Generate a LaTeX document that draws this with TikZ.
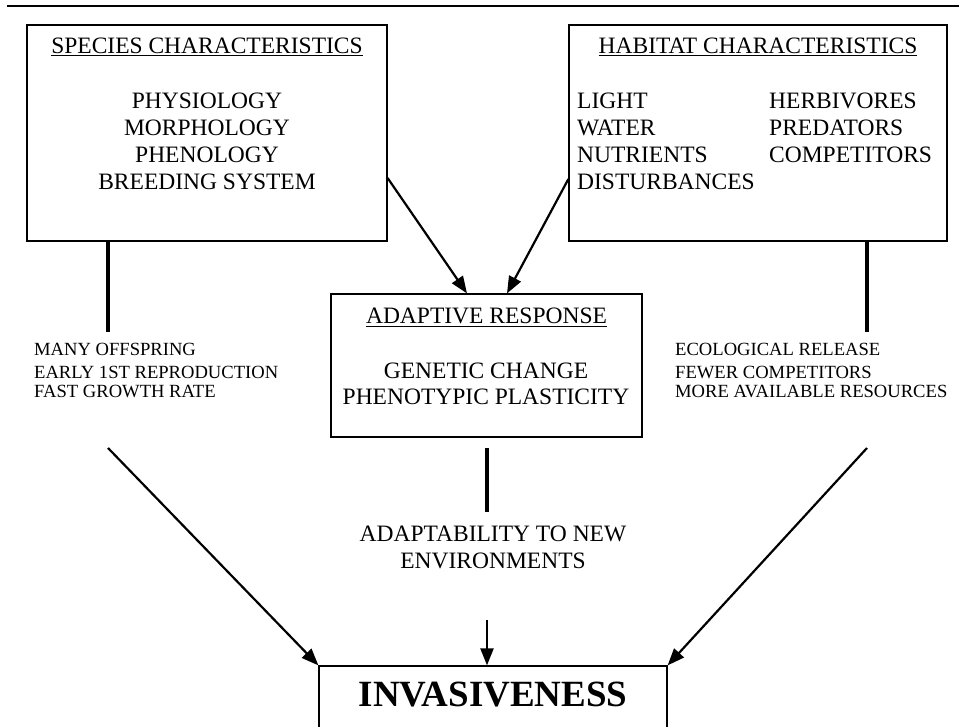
\documentclass[tikz,border=0pt]{standalone}
\usepackage{fontspec}
\setmainfont{Liberation Serif}
\usetikzlibrary{arrows.meta}

\begin{document}
\begin{tikzpicture}[
        x=1pt, y=-1pt,
        panel/.style={draw, line width=1.2pt, inner sep=0pt, minimum width=#1},
        item/.style={anchor=base, font=\fontsize{23.5}{27}\selectfont},
        entry/.style={anchor=base west, inner sep=0pt, font=\fontsize{23.5}{27}\selectfont},
        note/.style={anchor=base west, inner sep=0pt, font=\fontsize{18.6}{21}\selectfont},
        stem/.style={line width=3.4pt},
        feed/.style={line width=2.2pt, -{Triangle[length=17pt,width=13pt]}}
    ]
        \useasboundingbox (0, 0) rectangle (959, 727);
        \clip (0, 0) rectangle (959, 727);
        \draw[line width=1.3pt] (7, 6) -- (959, 6);
        % boxes
        \node[panel=360pt, minimum height=216pt] (species) at (207, 133) {};
        \node[panel=378pt, minimum height=216pt] (habitat) at (758, 133) {};
        \node[panel=311pt, minimum height=143pt] (adaptive) at (486.5, 365.5) {};
        \node[panel=348pt, minimum height=94pt] (invasive) at (493, 713) {};
        % species
        \node[item] (sphead) at (207, 54) {\underline{SPECIES CHARACTERISTICS}};
        \node[item] (sphys) at (207, 109) {PHYSIOLOGY};
        \node[item] (smorph) at (207, 136) {MORPHOLOGY};
        \node[item] (sphen) at (207, 163) {PHENOLOGY};
        \node[item] (sbreed) at (207, 190) {BREEDING SYSTEM};
        % habitat
        \node[item] (hhead) at (758, 54) {\underline{HABITAT CHARACTERISTICS}};
        \node[entry] (hlight) at (577, 109) {LIGHT};
        \node[entry] (hwater) at (577, 136) {WATER};
        \node[entry] (hnutr) at (577, 163) {NUTRIENTS};
        \node[entry] (hdist) at (577, 190) {DISTURBANCES};
        \node[entry] (hherb) at (769, 109) {HERBIVORES};
        \node[entry] (hpred) at (769, 136) {PREDATORS};
        \node[entry] (hcomp) at (769, 163) {COMPETITORS};
        % adaptive response
        \node[item] (ahead) at (486.5, 324) {\underline{ADAPTIVE RESPONSE}};
        \node[item] (agen) at (486, 378) {GENETIC CHANGE};
        \node[item] (aplast) at (486, 405) {PHENOTYPIC PLASTICITY};
        \node[item] (adapt1) at (493, 541) {ADAPTABILITY TO NEW};
        \node[item] (adapt2) at (493, 568) {ENVIRONMENTS};
        \node[item, font=\fontsize{37}{40}\selectfont\bfseries] (invtext) at (493, 706) {INVASIVENESS};
        % side notes
        \node[note] (lmany) at (34, 356) {MANY OFFSPRING};
        \node[note] (learly) at (34, 378) {EARLY 1ST REPRODUCTION};
        \node[note] (lfast) at (34, 398) {FAST GROWTH RATE};
        \node[note] (recol) at (675, 356) {ECOLOGICAL RELEASE};
        \node[note] (rfewer) at (675, 378) {FEWER COMPETITORS};
        \node[note] (rmore) at (675, 398) {MORE AVAILABLE RESOURCES};
        % connectors
        \coordinate (lstem) at (108, 332);
        \coordinate (rstem) at (867, 332);
        \coordinate (ltail) at (108, 448);
        \coordinate (rtail) at (867, 448);
        \coordinate (mtop) at (487, 448);
        \coordinate (mbot) at (487, 512);
        \coordinate (mtail) at (487, 620);
        \draw[stem] (species.south -| lstem) -- (lstem);
        \draw[stem] (habitat.south -| rstem) -- (rstem);
        \draw[stem] (mtop) -- (mbot);
        \draw[feed] ([yshift=-45pt]species.east) -- ([xshift=-19.5pt]adaptive.north);
        \draw[feed] ([yshift=-46pt]habitat.west) -- ([xshift=20.5pt]adaptive.north);
        \draw[feed] (ltail) -- (invasive.north west);
        \draw[feed] (rtail) -- (invasive.north east);
        \draw[feed] (mtail) -- (invasive.north -| mtail);
    \end{tikzpicture}
\end{document}
